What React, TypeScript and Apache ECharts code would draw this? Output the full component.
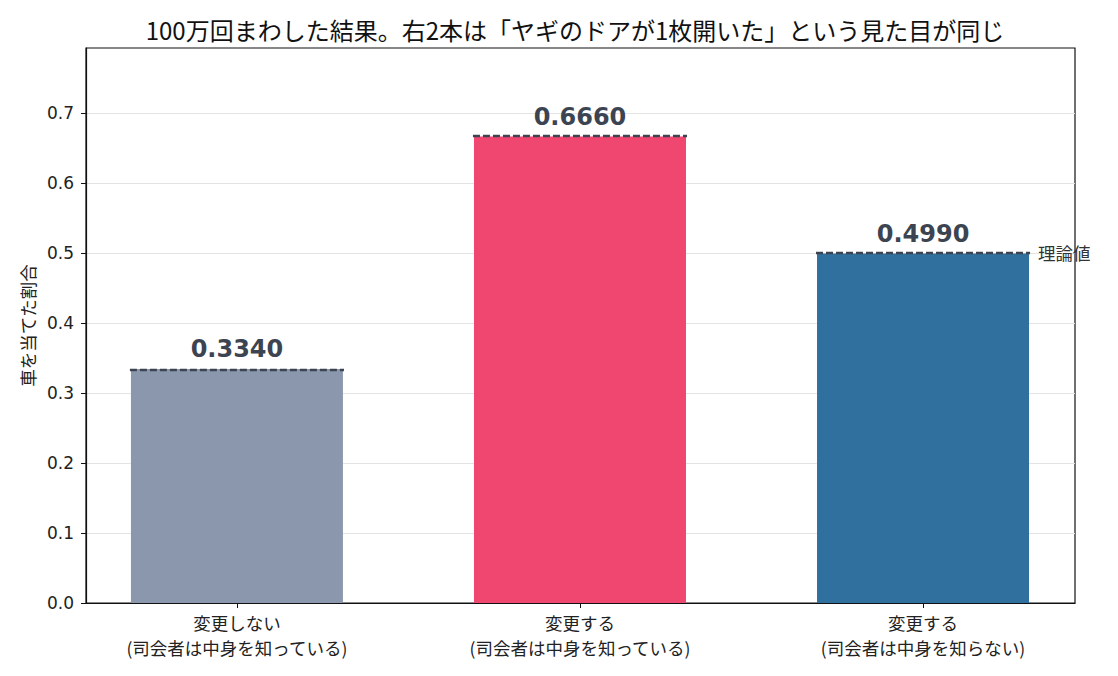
import { useEffect, useRef } from 'react';
import * as echarts from 'echarts';

const categories = [
  '変更しない\n(司会者は中身を知っている)',
  '変更する\n(司会者は中身を知っている)',
  '変更する\n(司会者は中身を知らない)',
];
const positions = [0, 1, 2];
const winRates = [0.334, 0.666, 0.499];
const theoryValues = [0.3333, 0.6667, 0.5];
const barColors = ['#8a97ad', '#ef4770', '#30709e'];
const yTicks = [0, 0.1, 0.2, 0.3, 0.4, 0.5, 0.6, 0.7];

const FONT = '"Noto Sans CJK JP", "Noto Sans", sans-serif';
const HALF = 0.312;

function App() {
  const chartRef = useRef<HTMLDivElement>(null);

  useEffect(() => {
    document.body.style.margin = '0';
    if (!chartRef.current) return;
    const chart = echarts.init(chartRef.current, undefined, { renderer: 'svg' });

    chart.setOption({
      animation: false,
      textStyle: { fontFamily: FONT },
      title: {
        text: '100万回まわした結果。右2本は「ヤギのドアが1枚開いた」という見た目が同じ',
        left: 570,
        textAlign: 'center',
        top: 12,
        textStyle: { fontFamily: FONT, fontSize: 24, fontWeight: 'normal', color: '#111' },
      },
      grid: {
        left: 86, right: 43, top: 48, bottom: 73,
        show: true, borderColor: '#111', borderWidth: 1.2, backgroundColor: 'transparent',
      },
      xAxis: {
        type: 'value',
        min: -0.44,
        max: 2.443,
        axisLine: { show: true, onZero: false, lineStyle: { color: '#111', width: 1.2 } },
        axisTick: { show: true, customValues: positions, length: 5, lineStyle: { color: '#111' } },
        axisLabel: {
          customValues: positions,
          formatter: (v: number) => categories[Math.round(v)] ?? '',
          fontFamily: FONT, fontSize: 17.5, color: '#222', lineHeight: 25, margin: 7,
        },
        splitLine: { show: false },
      },
      yAxis: {
        type: 'value',
        min: 0,
        max: 0.7925,
        name: '車を当てた割合',
        nameLocation: 'middle',
        nameGap: 45,
        nameTextStyle: { fontFamily: FONT, fontSize: 17.5, color: '#222' },
        axisLine: { show: true, onZero: false, lineStyle: { color: '#111', width: 1.2 } },
        axisTick: { show: true, customValues: yTicks, length: 5, lineStyle: { color: '#111' } },
        axisLabel: {
          customValues: yTicks,
          formatter: (v: number) => v.toFixed(1),
          fontFamily: 'DejaVu Sans', fontSize: 17, color: '#222', margin: 12,
        },
        splitLine: { show: true, lineStyle: { color: '#e4e4e4', width: 1 } },
      },
      series: [
        {
          type: 'bar',
          barWidth: 212,
          data: positions.map((p, i) => ({
            value: [p, winRates[i]],
            itemStyle: { color: barColors[i] },
          })),
          label: {
            show: true,
            position: 'top',
            distance: 8,
            formatter: (p: { value: number[] }) => p.value[1].toFixed(4),
            fontFamily: 'DejaVu Sans', fontSize: 24, fontWeight: 'bold', color: '#3d4451',
          },
          markLine: {
            silent: true,
            symbol: 'none',
            lineStyle: { color: '#3d4451', width: 2.4, type: [7, 3] },
            data: positions.map((p, i) => [
              { coord: [p - HALF, theoryValues[i]] },
              {
                coord: [p + HALF, theoryValues[i]],
                label: {
                  show: i === 2,
                  position: 'end',
                  formatter: '理論値',
                  fontFamily: FONT, fontSize: 17.5, color: '#333', distance: 8,
                },
              },
            ]),
            label: { show: false },
          },
        },
      ],
    });

    return () => chart.dispose();
  }, []);

  return <div ref={chartRef} style={{ width: '1118px', height: '676px' }} />;
}

export default App;
